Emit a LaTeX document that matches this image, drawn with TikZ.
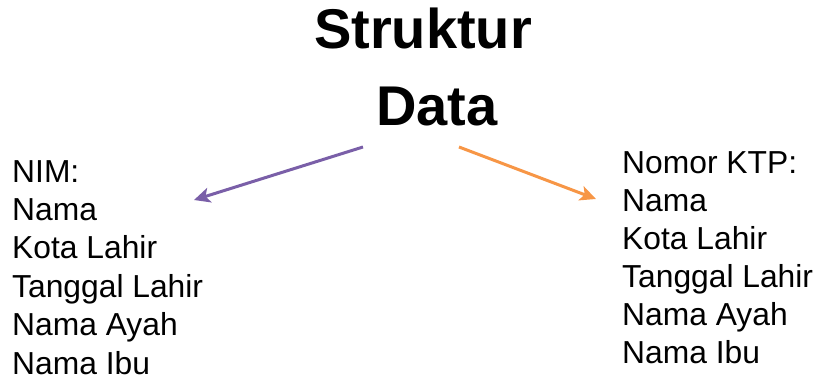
\documentclass[tikz,border=0pt]{standalone}
\usepackage{fontspec}
\setmainfont{Liberation Sans}
\usetikzlibrary{arrows.meta}
\definecolor{arrowpurple}{HTML}{7A5FA8}
\definecolor{arroworange}{HTML}{F79646}
\begin{document}
\begin{tikzpicture}[x=1pt,y=-1pt,
  titletext/.style={font=\fontsize{56}{60}\selectfont\bfseries, inner sep=0pt, anchor=base},
  listtext/.style={font=\fontsize{31.8}{38.4}\selectfont, align=left, inner sep=0pt, anchor=base west},
  link/.style={line width=3pt, -{Stealth[length=16pt,width=15pt,inset=4pt]}}]
  \useasboundingbox (0,0) rectangle (816,377);
  % heading
  \node[titletext] (title1) at (423,49) {Struktur};
  \node[titletext] (title2) at (437,125) {Data};
  % the two record layouts (anchored at the baseline of their last line)
  \node[listtext] (left) at (12,374) {NIM:\\Nama\\Kota Lahir\\Tanggal Lahir\\Nama Ayah\\Nama Ibu};
  \node[listtext, font=\fontsize{31.8}{38}\selectfont] (right) at (622,363) {Nomor KTP:\\Nama\\Kota Lahir\\Tanggal Lahir\\Nama Ayah\\Nama Ibu};
  % arrow ends
  \coordinate (lstart) at (363,147);
  \coordinate (lend) at (194,200);
  \coordinate (rstart) at (459,147);
  \coordinate (rend) at (596,199);
  \draw[link, arrowpurple] (lstart) -- (lend);
  \draw[link, arroworange] (rstart) -- (rend);
\end{tikzpicture}
\end{document}
